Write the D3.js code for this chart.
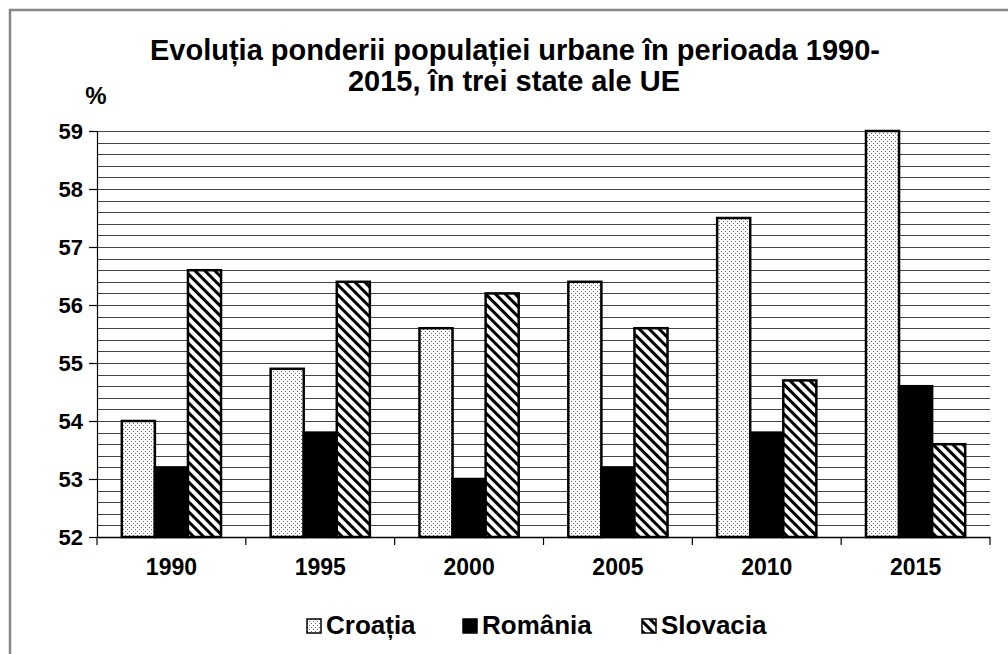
<!DOCTYPE html>
<html>
<head>
<meta charset="utf-8">
<script src="https://cdn.jsdelivr.net/npm/d3@7"></script>
<style>
  body { margin: 0; background: #fff; }
  text { font-family: "Liberation Sans", Arial, sans-serif; font-weight: bold; fill: #000; }
</style>
</head>
<body>
<div id="chart"></div>
<script>
// data
var years = ["1990", "1995", "2000", "2005", "2010", "2015"];
var croatia = [54.0, 54.9, 55.6, 56.4, 57.5, 59.0];
var romania = [53.2, 53.8, 53.0, 53.2, 53.8, 54.6];
var slovacia = [56.6, 56.4, 56.2, 55.6, 54.7, 53.6];
var seriesNames = ["Croația", "România", "Slovacia"];
var yTickValues = [52, 53, 54, 55, 56, 57, 58, 59];
var titleLines = ["Evoluția ponderii populației urbane în perioada 1990-", "2015, în trei state ale UE"];

var series = [
  { name: seriesNames[0], values: croatia, fill: "url(#dots)" },
  { name: seriesNames[1], values: romania, fill: "#000" },
  { name: seriesNames[2], values: slovacia, fill: "url(#stripes)" }
];

var W = 1008, H = 654;
var margin = {top: 131, right: 18, bottom: 117, left: 97},
    width = W - margin.left - margin.right,
    height = H - margin.top - margin.bottom;

var svg = d3.select("#chart").append("svg")
    .attr("width", W)
    .attr("height", H);

// patterns
var defs = svg.append("defs");
var dots = defs.append("pattern")
    .attr("id", "dots")
    .attr("patternUnits", "userSpaceOnUse")
    .attr("width", 4).attr("height", 4);
dots.append("rect").attr("width", 4).attr("height", 4).attr("fill", "#fff");
dots.append("rect").attr("x", 0).attr("y", 0).attr("width", 1).attr("height", 1).attr("fill", "#666");
dots.append("rect").attr("x", 2).attr("y", 2).attr("width", 1).attr("height", 1).attr("fill", "#666");

var stripes = defs.append("pattern")
    .attr("id", "stripes")
    .attr("patternUnits", "userSpaceOnUse")
    .attr("width", 7).attr("height", 7)
    .attr("patternTransform", "rotate(45)");
stripes.append("rect").attr("width", 7).attr("height", 7).attr("fill", "#fff");
stripes.append("rect").attr("y", 0).attr("width", 7).attr("height", 3).attr("fill", "#000");

// frame
svg.append("rect")
    .attr("x", 10).attr("y", 10)
    .attr("width", W + 20).attr("height", H + 20)
    .attr("fill", "#fff")
    .attr("stroke", "#888")
    .attr("stroke-width", 2.5);

// title
svg.selectAll("text.title")
    .data(titleLines)
  .enter().append("text")
    .attr("class", "title")
    .attr("text-anchor", "middle")
    .attr("x", function(d, i) { return i == 0 ? 515 : 514; })
    .attr("y", function(d, i) { return 60 + i * 31; })
    .style("font-size", "29px")
    .text(function(d) { return d; });

svg.append("text")
    .attr("x", 96)
    .attr("y", 104)
    .attr("text-anchor", "middle")
    .style("font-size", "24px")
    .text("%");

var x0 = d3.scaleBand().domain(years).range([0, width]).paddingInner(0).paddingOuter(0),
    x1 = d3.scaleBand().domain(seriesNames).range([0, x0.bandwidth()]).paddingOuter(0.75).paddingInner(0),
    y = d3.scaleLinear().domain([52, 59]).range([height, 0]);

var g = svg.append("g")
    .attr("transform", "translate(" + margin.left + "," + margin.top + ")");

// grid every 0.2
g.selectAll("line.grid")
    .data(d3.range(1, 36).map(function(i) { return 52 + i * 0.2; }))
  .enter().append("line")
    .attr("class", "grid")
    .attr("x1", 0).attr("x2", width)
    .attr("y1", function(d) { return Math.round(y(d)) + 0.5; })
    .attr("y2", function(d) { return Math.round(y(d)) + 0.5; })
    .attr("stroke", "#444")
    .attr("stroke-width", 1.2);

// bars
series.forEach(function(s) {
  g.selectAll("rect.bar-" + s.name)
      .data(s.values)
    .enter().append("rect")
      .attr("x", function(d, i) { return x0(years[i]) + x1(s.name); })
      .attr("y", function(d) { return y(d); })
      .attr("width", x1.bandwidth())
      .attr("height", function(d) { return height - y(d); })
      .attr("fill", s.fill)
      .attr("stroke", "#000")
      .attr("stroke-width", 2.5);
});

// axes
var yAxis = g.append("g")
    .call(d3.axisLeft(y).tickValues(yTickValues).tickSize(8).tickPadding(6).tickFormat(d3.format("d")));
yAxis.select(".domain").attr("stroke", "#000").attr("stroke-width", 1.2);
yAxis.selectAll(".tick line").attr("stroke", "#000").attr("stroke-width", 1.2);
yAxis.selectAll(".tick text").style("font-size", "22px").attr("font-family", null);

var xAxis = g.append("g")
    .attr("transform", "translate(0," + height + ")")
    .call(d3.axisBottom(x0).tickSize(0).tickPadding(22));
xAxis.select(".domain").attr("stroke", "#000").attr("stroke-width", 1.5);
xAxis.selectAll(".tick text").style("font-size", "23px").attr("font-family", null);

// category separator ticks
g.selectAll("line.xtick")
    .data(years.concat(["end"]))
  .enter().append("line")
    .attr("class", "xtick")
    .attr("x1", function(d, i) { return i * x0.step(); })
    .attr("x2", function(d, i) { return i * x0.step(); })
    .attr("y1", height)
    .attr("y2", height + 8)
    .attr("stroke", "#000")
    .attr("stroke-width", 1.2);

// legend
var legendX = [307, 463, 642];
var legend = svg.selectAll("g.legend")
    .data(series)
  .enter().append("g")
    .attr("class", "legend")
    .attr("transform", function(d, i) { return "translate(" + legendX[i] + ",619)"; });

legend.append("rect")
    .attr("width", 14).attr("height", 14)
    .attr("y", 0)
    .attr("fill", function(d) { return d.fill; })
    .attr("stroke", "#000")
    .attr("stroke-width", 1.5);

legend.append("text")
    .attr("x", 19)
    .attr("y", 15)
    .style("font-size", "26px")
    .text(function(d) { return d.name; });
</script>
</body>
</html>
